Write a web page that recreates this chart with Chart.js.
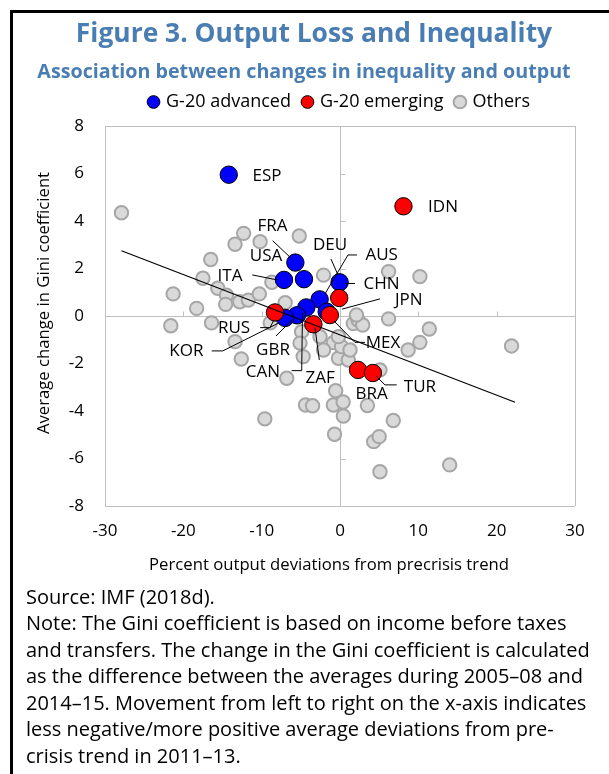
<!DOCTYPE html>
<html><head><meta charset="utf-8">
<script src="https://cdn.jsdelivr.net/npm/chart.js@4.4.1/dist/chart.umd.min.js"></script>
<style>
html,body{margin:0;padding:0;background:#fff;}
body{width:609px;height:774px;position:relative;overflow:hidden;font-family:'Open Sans',sans-serif;}
#frame{position:absolute;left:10px;top:10px;width:700px;height:900px;border-left:3px solid #000;border-top:3px solid #000;pointer-events:none;z-index:5;}
#chart{position:absolute;left:0;top:0;}
.t{position:absolute;white-space:nowrap;}
#title{left:16px;width:596px;text-align:center;top:12px;font-size:26.4px;line-height:40px;font-weight:700;color:#4a7eb3;}
#sub{left:6px;width:596px;text-align:center;top:57px;font-size:19.7px;line-height:28px;font-weight:700;color:#4a7eb3;}
#notes{left:26px;top:583.5px;font-size:20px;line-height:26.5px;color:#000;}
</style></head>
<body>
<canvas id="chart" width="609" height="590"></canvas>
<div class="t" id="title">Figure 3. Output Loss and Inequality</div>
<div class="t" id="sub">Association between changes in inequality and output</div>
<div class="t" id="notes">Source: IMF (2018d).<br>Note: The Gini coefficient is based on income before taxes<br>and transfers. The change in the Gini coefficient is calculated<br>as the difference between the averages during 2005–08 and<br>2014–15. Movement from left to right on the x-axis indicates<br>less negative/more positive average deviations from pre-<br>crisis trend in 2011–13.</div>
<div id="frame"></div>
<script>
// ---- data ----
const advancedCodes = ['ESP','FRA','USA','ITA','DEU','AUS','JPN','CAN','GBR','KOR'];
const advancedX = [-14.2, -5.7, -4.6, -7.15, -0.05, -2.6, -1.7, -4.3, -5.5, -7.0];
const advancedY = [5.95, 2.25, 1.55, 1.52, 1.42, 0.7, 0.18, 0.36, 0.03, -0.08];

const emergingCodes = ['IDN','CHN','RUS','ZAF','MEX','BRA','TUR'];
const emergingX = [8.1, -0.1, -8.3, -3.4, -1.3, 2.3, 4.2];
const emergingY = [4.62, 0.76, 0.15, -0.35, 0.04, -2.27, -2.4];

const othersX = [-27.9,-12.3,-13.4,-10.2,-5.2,-16.5,-17.5,-21.3,-18.3,-15.6,-14.5,-14.6,-12.8,-11.7,-10.3,-8.7,-7.0,-2.1,
  -21.6,-16.4,-13.4,-12.6,-8.9,-6.8,-9.6,-4.4,-3.5,-0.85,-0.55,-0.7,-4.7,-4.9,-2.55,-0.85,-2.1,-0.2,1.06,0.2,-0.2,1.7,
  0.4,0.43,3.5,6.8,4.3,5.0,5.1,14.0,6.2,10.2,2.3,2.9,6.2,11.4,10.2,8.7,21.9,5.1,2.1,-5.1,1.28];
const othersY = [4.35,3.48,3.02,3.13,3.37,2.38,1.59,0.93,0.32,1.17,0.88,0.49,0.60,0.67,0.93,1.42,0.56,1.72,
  -0.41,-0.29,-1.08,-1.81,-0.29,-2.62,-4.33,-3.75,-3.78,-3.75,-3.15,-4.98,-1.71,-0.66,-0.87,-1.12,-1.43,-1.78,-1.85,-1.29,-0.87,-0.32,
  -3.62,-4.21,-3.77,-4.4,-5.29,-5.08,-6.56,-6.27,1.87,1.66,-0.17,-0.38,-0.12,-0.55,-1.11,-1.43,-1.26,-2.27,0.04,-1.14,-1.43];

const trendX = [-27.9, 22.35];
const trendY = [2.75, -3.63];

const xTickValues = [-30,-20,-10,0,10,20,30];
const yTickValues = [-8,-6,-4,-2,0,2,4,6,8];

const seriesNames = ['G-20 advanced','G-20 emerging','Others'];
const xAxisTitle = 'Percent output deviations from precrisis trend';
const yAxisTitle = 'Average change in Gini coefficient';

// ---- label placement (data units), separate from the data ----
const calloutLayout = {
  ESP:{at:[-9.32,5.89]},
  IDN:{at:[13.15,4.59]},
  FRA:{at:[-8.62,3.79], leader:[[-8.6,3.17],[-6.13,2.4]]},
  USA:{at:[-9.45,2.5]},
  ITA:{at:[-14.04,1.68], leader:[[-11.2,1.73],[-8.04,1.52]]},
  DEU:{at:[-1.28,2.99], leader:[[-1.15,2.4],[-0.26,1.73]]},
  AUS:{at:[5.32,2.57], leader:[[2.17,2.57],[1.02,2.57],[-1.92,0.93]]},
  CHN:{at:[5.3,1.35], leader:[[1.91,1.37],[0.64,1.37]]},
  JPN:{at:[8.77,0.67], leader:[[5.1,0.72],[0.26,0.29]]},
  MEX:{at:[5.49,-1.15], leader:[[3.19,-1.11],[1.91,-1.11],[-0.77,-0.21]]},
  BRA:{at:[4.05,-3.28]},
  TUR:{at:[10.2,-2.98], leader:[[7.24,-2.9],[5.74,-2.9],[4.6,-2.53]]},
  RUS:{at:[-13.53,-0.52], leader:[[-10.2,-0.49],[-8.94,-0.49],[-8.43,-0.17]]},
  KOR:{at:[-19.62,-1.5], leader:[[-16.38,-1.47],[-14.97,-1.47],[-7.79,-0.29]]},
  GBR:{at:[-8.55,-1.43], leader:[[-8.17,-0.84],[-6.13,-0.17]]},
  CAN:{at:[-9.83,-2.35], leader:[[-6.17,-2.3],[-4.89,-2.3],[-4.79,0.13]]},
  ZAF:{at:[-2.55,-2.61], leader:[[-2.64,-1.85],[-3.19,-0.5]]}
};

const pts = (xs, ys) => xs.map((x, i) => ({x, y: ys[i]}));
const FONT = "'Open Sans', sans-serif";
Chart.defaults.font.family = FONT;
Chart.defaults.color = '#000';

const zeroAxisTicks = {
  id: 'zeroAxisTicks',
  beforeDatasetsDraw(chart) {
    const {ctx, scales: {x, y}} = chart;
    const x0 = Math.round(x.getPixelForValue(0)) + 0.5;
    const y0 = Math.round(y.getPixelForValue(0)) + 0.5;
    ctx.save();
    ctx.strokeStyle = '#bfbfbf';
    ctx.lineWidth = 1;
    ctx.beginPath();
    xTickValues.forEach(v => {
      if (v === 0) return;
      const px = Math.round(x.getPixelForValue(v)) + 0.5;
      ctx.moveTo(px, y0); ctx.lineTo(px, y0 - 5);
    });
    yTickValues.forEach(v => {
      if (v === 0) return;
      const py = Math.round(y.getPixelForValue(v)) + 0.5;
      ctx.moveTo(x0, py); ctx.lineTo(x0 + 5, py);
    });
    ctx.stroke();
    ctx.restore();
  }
};

const axisTitles = {
  id: 'axisTitles',
  afterDraw(chart) {
    const {ctx, chartArea: a} = chart;
    ctx.save();
    ctx.fillStyle = '#000';
    ctx.font = "16.7px " + FONT;
    ctx.textAlign = 'center';
    ctx.textBaseline = 'middle';
    ctx.fillText(xAxisTitle, (a.left + a.right) / 2 - 11, a.bottom + 59);
    ctx.translate(a.left - 61, (a.top + a.bottom) / 2 - 13);
    ctx.rotate(-Math.PI / 2);
    ctx.fillText(yAxisTitle, 0, 0);
    ctx.restore();
  }
};

const callouts = {
  id: 'callouts',
  afterDatasetsDraw(chart) {
    const {ctx, scales: {x, y}} = chart;
    ctx.save();
    ctx.strokeStyle = '#000';
    ctx.lineWidth = 1;
    ctx.fillStyle = '#000';
    ctx.font = "17px " + FONT;
    ctx.textAlign = 'center';
    ctx.textBaseline = 'middle';
    advancedCodes.concat(emergingCodes).forEach(code => {
      const c = calloutLayout[code];
      if (!c) return;
      if (c.leader) {
        ctx.beginPath();
        c.leader.forEach((p, i) => {
          const px = x.getPixelForValue(p[0]), py = y.getPixelForValue(p[1]);
          if (i === 0) ctx.moveTo(px, py); else ctx.lineTo(px, py);
        });
        ctx.stroke();
      }
      ctx.fillText(code, x.getPixelForValue(c.at[0]), y.getPixelForValue(c.at[1]));
    });
    ctx.restore();
  }
};

const edgeGrid = (min, max) => (ctx) => {
  const v = ctx.tick && ctx.tick.value;
  return (v === 0 || v === min || v === max) ? '#bfbfbf' : 'rgba(0,0,0,0)';
};

new Chart(document.getElementById('chart'), {
  type: 'scatter',
  data: {
    datasets: [
      {label: seriesNames[0], data: pts(advancedX, advancedY), backgroundColor: '#0000ff', borderColor: '#000', borderWidth: 1, pointRadius: 8.7, order: 2},
      {label: seriesNames[1], data: pts(emergingX, emergingY), backgroundColor: '#ff0000', borderColor: '#000', borderWidth: 1, pointRadius: 8.7, order: 1},
      {label: seriesNames[2], data: pts(othersX, othersY), backgroundColor: '#d9d9d9', borderColor: '#a6a6a6', borderWidth: 2, pointRadius: 6.7, order: 3},
      {label: '', data: pts(trendX, trendY), showLine: true, borderColor: '#000', borderWidth: 1.2, pointRadius: 0, fill: false, order: 0}
    ]
  },
  options: {
    responsive: false,
    animation: false,
    devicePixelRatio: 1,
    events: [],
    layout: {padding: {top: 80, right: 34, bottom: 0, left: 0}},
    scales: {
      x: {
        type: 'linear', min: -30, max: 30,
        afterBuildTicks: s => { s.ticks = xTickValues.map(v => ({value: v})); },
        afterFit: s => { s.height = 84; },
        ticks: {padding: 15, font: {size: 17}, color: '#000', maxRotation: 0},
        grid: {color: edgeGrid(-30, 30), drawTicks: false, lineWidth: 1},
        border: {display: false},
        title: {display: false, text: xAxisTitle}
      },
      y: {
        type: 'linear', min: -8, max: 8,
        afterBuildTicks: s => { s.ticks = yTickValues.map(v => ({value: v})); },
        afterFit: s => { s.width = 105; },
        ticks: {padding: 21, font: {size: 17}, color: '#000'},
        grid: {color: edgeGrid(-8, 8), drawTicks: false, lineWidth: 1},
        border: {display: false},
        title: {display: false, text: yAxisTitle}
      }
    },
    plugins: {
      legend: {
        display: true, position: 'top', fullSize: false,
        labels: {
          usePointStyle: true, boxWidth: 7, boxHeight: 9, padding: 13,
          font: {size: 18}, color: '#000',
          filter: item => item.text !== '',
          sort: (a, b) => a.datasetIndex - b.datasetIndex
        }
      },
      subtitle: {display: true, text: '', weight: 500, font: {size: 1}, padding: {top: 3.8, bottom: 0}},
      tooltip: {enabled: false}
    }
  },
  plugins: [zeroAxisTicks, callouts, axisTitles]
});
</script>
</body></html>
